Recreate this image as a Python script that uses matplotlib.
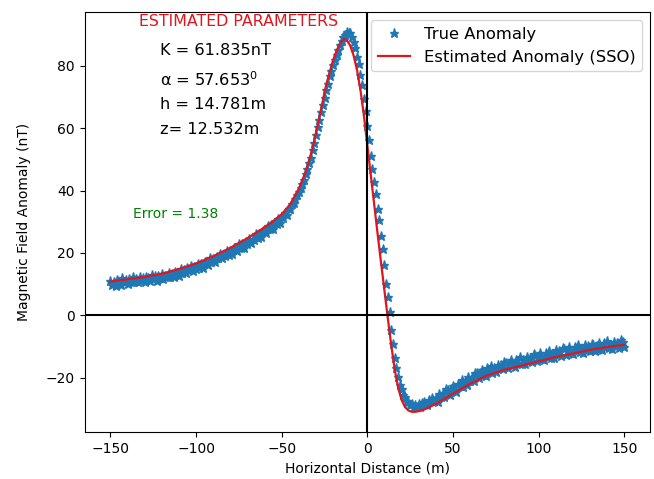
import matplotlib.pyplot as plt
import numpy as np

# horizontal distance (m), one station per metre
x_obs = np.arange(-150, 151)

t_obs = [
    11.1, 9.7, 10.6, 9.4, 11.2, 10.7, 9.8, 11.8, 10.5, 11.3,
    10.0, 11.6, 10.8, 12.1, 10.5, 11.5, 10.8, 12.3, 10.9, 11.8,
    10.6, 12.4, 11.8, 11.0, 12.9, 11.6, 12.5, 11.1, 12.7, 11.9,
    13.2, 11.6, 12.7, 12.1, 13.6, 12.3, 13.3, 12.1, 13.9, 13.5,
    12.7, 14.8, 13.6, 14.6, 13.4, 15.1, 14.4, 15.8, 14.3, 15.4,
    14.9, 16.5, 15.2, 16.4, 15.3, 17.2, 16.8, 16.1, 18.3, 17.1,
    18.1, 17.0, 18.7, 18.2, 19.6, 18.2, 19.4, 18.9, 20.6, 19.3,
    20.5, 19.5, 21.5, 21.2, 20.6, 22.8, 21.7, 22.8, 21.7, 23.5,
    23.0, 24.6, 23.2, 24.5, 24.1, 25.9, 24.7, 26.0, 25.0, 27.1,
    26.8, 26.3, 28.6, 27.6, 28.8, 27.8, 29.7, 29.3, 30.9, 29.6,
    31.6, 31.3, 32.9, 32.3, 34.2, 34.0, 35.6, 35.9, 37.4, 38.5,
    39.4, 40.8, 42.1, 43.5, 45.3, 46.8, 48.9, 50.6, 53.0, 55.2,
    57.8, 60.4, 62.5, 65.2, 67.3, 69.8, 72.4, 74.1, 76.6, 78.2,
    80.3, 81.8, 83.6, 85.0, 86.8, 87.9, 89.4, 89.9, 90.9, 90.4,
    90.7, 89.3, 87.6, 85.9, 83.0, 80.6, 77.2, 73.8, 69.5, 65.4,
    60.6, 56.3, 51.2, 47.0, 42.8, 38.9, 34.2, 30.6, 25.3, 21.4,
    16.2, 10.1, 5.8, 0.9, -4.7, -9.1, -13.6, -16.8, -19.9, -22.3,
    -23.7, -25.5, -26.4, -27.5, -27.9, -28.7, -28.4, -29.3, -28.8, -29.4,
    -28.4, -29.4, -28.3, -27.7, -28.6, -28.8, -27.3, -27.6, -26.5, -27.5,
    -26.6, -27.7, -25.2, -26.3, -25.0, -26.3, -23.7, -23.9, -25.5, -23.7,
    -22.6, -24.1, -24.5, -22.0, -22.8, -20.9, -22.9, -21.4, -22.5, -19.9,
    -21.0, -19.7, -21.0, -18.5, -18.7, -20.3, -18.6, -17.5, -19.1, -19.5,
    -17.1, -18.0, -16.2, -18.4, -17.1, -18.3, -15.9, -17.1, -16.0, -17.4,
    -14.9, -15.3, -17.0, -15.4, -14.4, -16.1, -16.7, -14.3, -15.3, -13.5,
    -15.7, -14.5, -15.7, -13.4, -14.7, -13.6, -15.0, -12.6, -13.0, -14.7,
    -13.1, -12.2, -13.9, -14.4, -12.1, -13.1, -11.4, -13.6, -12.3, -13.6,
    -11.3, -12.6, -11.5, -13.0, -10.6, -11.0, -12.8, -11.2, -10.3, -12.0,
    -12.6, -10.3, -11.3, -9.7, -11.9, -10.7, -12.0, -9.7, -11.1, -10.0,
    -11.5, -9.1, -9.6, -11.4, -9.8, -9.0, -10.7, -11.3, -9.0, -10.1,
    -8.4, -10.6, -9.5, -10.8, -8.6, -9.9, -8.8, -10.4, -8.0, -8.5,
    -10.3,
]

# estimated anomaly (SSO fit)
x_est = [-150, -140, -130, -120, -110, -100, -90, -80, -70, -60, -55, -50,
         -45, -40, -36, -32, -28, -24, -20, -18, -16, -14, -13, -12, -10,
         -8, -6, -4, -2, 0, 2, 4, 6, 8, 10, 12, 14, 16, 18, 20, 22, 24,
         26, 28, 30, 33, 36, 40, 45, 50, 55, 60, 70, 80, 90, 100, 110,
         120, 130, 140, 150]
t_est = [10.8, 11.5, 12.3, 13.3, 14.8, 16.6, 18.9, 21.6, 24.7, 28.2, 30.2, 32.4,
         35.6, 40.6, 46.0, 53.5, 63.5, 74.0, 81.8, 84.8, 87.2, 88.5, 88.6, 88.3, 86.5,
         83.3, 78.6, 72.2, 64.0, 54.5, 45.0, 35.5, 26.0, 16.8, 7.8, -1.2, -9.8, -17.5, -23.3, -27.2, -29.5, -30.6,
         -31.0, -31.0, -30.8, -30.3, -29.6, -28.4, -26.8, -25.2, -23.6, -22.0, -19.3, -17.5, -16.2, -14.8, -13.4,
         -12.3, -11.1, -10.2, -9.5]

params = ["K = 61.835nT", r"α = 57.653$^0$", "h = 14.781m", "z= 12.532m"]
param_y = [85, 75.5, 67.5, 59.5]
error_text = "Error = 1.38"

fig = plt.figure(figsize=(6.54, 4.79), dpi=100)
ax = fig.add_axes([0.1295, 0.098, 0.8644, 0.877])

ax.plot(x_obs, t_obs, '*', color='#1f77b4', markersize=6.5, label='True Anomaly')
ax.plot(x_est, t_est, color='#e0161e', linewidth=1.6, label='Estimated Anomaly (SSO)')
ax.axhline(0, color='black', linewidth=1.5)
ax.axvline(0, color='black', linewidth=1.5)

ax.text(-75, 94.4, "ESTIMATED PARAMETERS", color='#e0161e', ha='center', va='center', fontsize=11.4)
for s, yy in zip(params, param_y):
    ax.text(-121, yy, s, color='black', ha='left', va='center', fontsize=11.6)
ax.text(-137, 32.6, error_text, color='green', ha='left', va='center', fontsize=10)

ax.set_xlim(-165, 165)
ax.set_ylim(-37.5, 97.3)
ax.set_xlabel('Horizontal Distance (m)')
ax.set_ylabel('Magnetic Field Anomaly (nT)', labelpad=11)
ax.legend(loc='upper right', fontsize=11.8)

fig.savefig('out.png', dpi=100)
